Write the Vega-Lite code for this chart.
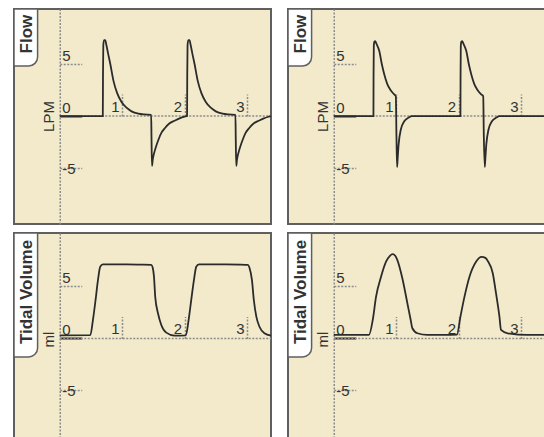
{
  "$schema": "https://vega.github.io/schema/vega-lite/v6.json",
  "background": "white",
  "padding": {"left": 12, "top": 7, "right": 0, "bottom": 0},
  "config": {
    "font": "Liberation Sans",
    "view": {"fill": "#f2eacb", "stroke": "#5f5f5f", "strokeWidth": 2},
    "axisX": {"domain": false, "grid": false, "tickSize": 22, "tickColor": "#8c8c8c", "tickWidth": 1.5, "tickDash": [2, 1.5], "labelPadding": -20, "labelAlign": "right", "labelBaseline": "bottom", "labelOffset": -3, "labelFontSize": 15, "labelColor": "#333333", "labelFont": "Liberation Sans", "labelFlush": false, "labelOverlap": false, "labelBound": false},
    "axisY": {"domain": true, "domainColor": "#8c8c8c", "domainWidth": 1.5, "domainDash": [2, 1.5], "grid": false, "tickSize": 22,
              "tickColor": {"condition": {"test": "datum.value === 0", "value": "#2b2b2b"}, "value": "#8c8c8c"},
              "tickWidth": {"condition": {"test": "datum.value === 0", "value": 2}, "value": 1.5},
              "tickDash": {"condition": {"test": "datum.value === 0", "value": []}, "value": [2, 1.5]},
              "labelPadding": -20, "labelAlign": "left",
              "labelBaseline": {"condition": {"test": "datum.value < 0", "value": "middle"}, "value": "bottom"},
              "labelOffset": {"condition": {"test": "datum.value < 0", "value": 0}, "value": -1},
              "labelExpr": "'' + datum.value",
              "labelFontSize": 15, "labelColor": "#333333", "labelFont": "Liberation Sans", "labelFlush": false, "labelOverlap": false, "labelBound": false, "titleAngle": 270, "titleAlign": "center", "titleBaseline": "middle", "titleFontSize": 15, "titleFontWeight": "normal", "titleColor": "#333333", "titleFont": "Liberation Sans", "titleX": -11.75}
  },
  "datasets": {
    "flowA": [
      {"t": 0, "v": 0}, {"t": 0.69, "v": 0}, {"t": 0.693, "v": 4.0}, {"t": 0.698, "v": 6.8}, {"t": 0.71, "v": 7.3}, {"t": 0.73, "v": 7.3}, {"t": 0.745, "v": 6.9}, {"t": 0.775, "v": 6.0}, {"t": 0.81, "v": 5.0}, {"t": 0.86, "v": 3.4}, {"t": 0.92, "v": 2.2}, {"t": 0.99, "v": 1.35}, {"t": 1.07, "v": 0.8}, {"t": 1.15, "v": 0.45}, {"t": 1.26, "v": 0.22}, {"t": 1.35, "v": 0.15}, {"t": 1.465, "v": 0.12},
      {"t": 1.47, "v": -2.0}, {"t": 1.478, "v": -4.8}, {"t": 1.49, "v": -4.2}, {"t": 1.52, "v": -3.4}, {"t": 1.55, "v": -2.8}, {"t": 1.58, "v": -2.3}, {"t": 1.63, "v": -1.6}, {"t": 1.68, "v": -1.2}, {"t": 1.76, "v": -0.7}, {"t": 1.84, "v": -0.45}, {"t": 1.92, "v": -0.22}, {"t": 2.0, "v": -0.06}, {"t": 2.04, "v": 0},
      {"t": 2.043, "v": 4.0}, {"t": 2.048, "v": 6.8}, {"t": 2.06, "v": 7.3}, {"t": 2.08, "v": 7.3}, {"t": 2.095, "v": 6.9}, {"t": 2.125, "v": 6.0}, {"t": 2.16, "v": 5.0}, {"t": 2.21, "v": 3.4}, {"t": 2.27, "v": 2.2}, {"t": 2.34, "v": 1.35}, {"t": 2.42, "v": 0.8}, {"t": 2.5, "v": 0.45}, {"t": 2.61, "v": 0.22}, {"t": 2.7, "v": 0.15}, {"t": 2.815, "v": 0.12},
      {"t": 2.82, "v": -2.0}, {"t": 2.828, "v": -4.8}, {"t": 2.84, "v": -4.2}, {"t": 2.87, "v": -3.4}, {"t": 2.9, "v": -2.8}, {"t": 2.93, "v": -2.3}, {"t": 2.98, "v": -1.6}, {"t": 3.03, "v": -1.2}, {"t": 3.11, "v": -0.7}, {"t": 3.19, "v": -0.45}, {"t": 3.27, "v": -0.22}, {"t": 3.35, "v": -0.06}, {"t": 3.385, "v": 0}
    ],
    "flowB": [
      {"t": 0, "v": 0}, {"t": 0.636, "v": 0}, {"t": 0.638, "v": 4.0}, {"t": 0.642, "v": 6.8}, {"t": 0.652, "v": 7.15}, {"t": 0.665, "v": 7.2}, {"t": 0.68, "v": 7.0}, {"t": 0.73, "v": 6.25}, {"t": 0.77, "v": 5.0}, {"t": 0.81, "v": 4.0}, {"t": 0.86, "v": 3.05}, {"t": 0.91, "v": 2.5}, {"t": 0.965, "v": 2.1}, {"t": 0.995, "v": 1.9},
      {"t": 1.005, "v": -2.0}, {"t": 1.015, "v": -4.9}, {"t": 1.025, "v": -4.0}, {"t": 1.04, "v": -2.7}, {"t": 1.075, "v": -1.3}, {"t": 1.13, "v": -0.5}, {"t": 1.2, "v": -0.15}, {"t": 1.25, "v": 0}, {"t": 2.03, "v": 0},
      {"t": 2.032, "v": 4.0}, {"t": 2.036, "v": 6.8}, {"t": 2.046, "v": 7.15}, {"t": 2.059, "v": 7.2}, {"t": 2.074, "v": 7.0}, {"t": 2.124, "v": 6.25}, {"t": 2.164, "v": 5.0}, {"t": 2.204, "v": 4.0}, {"t": 2.254, "v": 3.05}, {"t": 2.304, "v": 2.5}, {"t": 2.359, "v": 2.1}, {"t": 2.395, "v": 1.9},
      {"t": 2.405, "v": -2.0}, {"t": 2.42, "v": -4.9}, {"t": 2.43, "v": -4.0}, {"t": 2.445, "v": -2.7}, {"t": 2.48, "v": -1.3}, {"t": 2.535, "v": -0.5}, {"t": 2.605, "v": -0.15}, {"t": 2.655, "v": 0}, {"t": 3.385, "v": 0}
    ],
    "volA": [
      {"t": 0, "v": 0.3}, {"t": 0.49, "v": 0.32}, {"t": 0.532, "v": 1.78}, {"t": 0.574, "v": 3.7}, {"t": 0.612, "v": 5.6}, {"t": 0.649, "v": 6.9}, {"t": 0.69, "v": 7.13}, {"t": 1.0, "v": 7.12}, {"t": 1.3, "v": 7.1}, {"t": 1.466, "v": 7.07},
      {"t": 1.49, "v": 6.8}, {"t": 1.51, "v": 5.94}, {"t": 1.53, "v": 4.0}, {"t": 1.574, "v": 2.42}, {"t": 1.627, "v": 1.3}, {"t": 1.707, "v": 0.56}, {"t": 1.84, "v": 0.27}, {"t": 2.02, "v": 0.3},
      {"t": 2.065, "v": 1.78}, {"t": 2.107, "v": 3.7}, {"t": 2.15, "v": 5.6}, {"t": 2.187, "v": 6.9}, {"t": 2.23, "v": 7.13}, {"t": 2.6, "v": 7.12}, {"t": 2.9, "v": 7.1}, {"t": 3.016, "v": 7.07},
      {"t": 3.04, "v": 6.8}, {"t": 3.08, "v": 5.6}, {"t": 3.11, "v": 3.7}, {"t": 3.15, "v": 2.1}, {"t": 3.2, "v": 1.13}, {"t": 3.28, "v": 0.5}, {"t": 3.385, "v": 0.27}
    ],
    "volB": [
      {"t": 0, "v": 0.34}, {"t": 0.564, "v": 0.34}, {"t": 0.625, "v": 1.78}, {"t": 0.678, "v": 4.02}, {"t": 0.758, "v": 5.94}, {"t": 0.838, "v": 7.38}, {"t": 0.9, "v": 7.95}, {"t": 0.944, "v": 8.1}, {"t": 0.985, "v": 7.95}, {"t": 1.018, "v": 7.55}, {"t": 1.099, "v": 5.79}, {"t": 1.18, "v": 3.38}, {"t": 1.233, "v": 1.78}, {"t": 1.26, "v": 0.98}, {"t": 1.34, "v": 0.5}, {"t": 1.5, "v": 0.34}, {"t": 1.77, "v": 0.34}, {"t": 1.973, "v": 0.36},
      {"t": 2.03, "v": 2.1}, {"t": 2.095, "v": 4.02}, {"t": 2.175, "v": 5.94}, {"t": 2.28, "v": 7.38}, {"t": 2.37, "v": 7.85}, {"t": 2.43, "v": 7.75}, {"t": 2.468, "v": 7.45}, {"t": 2.548, "v": 6.27}, {"t": 2.6, "v": 4.35}, {"t": 2.655, "v": 2.1}, {"t": 2.68, "v": 0.82}, {"t": 2.788, "v": 0.5}, {"t": 3.1, "v": 0.34}, {"t": 3.385, "v": 0.34}
    ]
  },
  "vconcat": [
    {
      "spacing": 10,
      "hconcat": [
        {
          "width": 257, "height": 215,
          "layer": [
            {"data": {"values": [{"label": "Flow"}]}, "mark": {"type": "rule", "stroke": "#8c8c8c", "strokeWidth": 1.5, "strokeDash": [2, 1.5]},
             "encoding": {"x": {"datum": 0, "type": "quantitative", "scale": {"domain": [-0.733, 3.385], "nice": false}, "axis": {"orient": "top", "offset": -107, "values": [1, 2, 3], "title": null}}, "x2": {"datum": 3.385},
                          "y": {"datum": 0, "type": "quantitative", "scale": {"domain": [-10.38, 10.29], "nice": false}, "axis": {"orient": "right", "offset": -211.25, "values": [-5, 0, 5], "title": "LPM", "titleY": 107}}}},
            {"data": {"name": "flowA"}, "mark": {"type": "line", "stroke": "#2b2b2b", "strokeWidth": 1.8, "interpolate": "monotone"},
             "encoding": {"x": {"field": "t", "type": "quantitative", "scale": {"domain": [-0.733, 3.385], "nice": false}, "axis": {"orient": "top", "offset": -107, "values": [1, 2, 3], "title": null}},
                          "y": {"field": "v", "type": "quantitative", "scale": {"domain": [-10.38, 10.29], "nice": false}, "axis": {"orient": "right", "offset": -211.25, "values": [-5, 0, 5], "title": "LPM", "titleY": 107}}}},
            {"data": {"values": [{"label": "Flow"}]}, "mark": {"type": "rect", "fill": "white", "stroke": "#5f5f5f", "strokeWidth": 1.5, "cornerRadiusBottomRight": 9},
             "encoding": {"x": {"datum": -0.733, "type": "quantitative", "scale": {"domain": [-0.733, 3.385], "nice": false}, "axis": {"orient": "top", "offset": -107, "values": [1, 2, 3], "title": null}}, "x2": {"datum": -0.355},
                          "y": {"datum": 10.29, "type": "quantitative", "scale": {"domain": [-10.38, 10.29], "nice": false}, "axis": {"orient": "right", "offset": -211.25, "values": [-5, 0, 5], "title": "LPM", "titleY": 107}}, "y2": {"datum": 4.81}}},
            {"data": {"values": [{"label": "Flow"}]}, "mark": {"type": "text", "angle": 270, "align": "center", "baseline": "middle", "font": "Liberation Sans", "fontSize": 17, "fontWeight": "bold", "color": "#333333"},
             "encoding": {"x": {"datum": -0.52, "type": "quantitative", "scale": {"domain": [-0.733, 3.385], "nice": false}, "axis": {"orient": "top", "offset": -107, "values": [1, 2, 3], "title": null}},
                          "y": {"datum": 7.88, "type": "quantitative", "scale": {"domain": [-10.38, 10.29], "nice": false}, "axis": {"orient": "right", "offset": -211.25, "values": [-5, 0, 5], "title": "LPM", "titleY": 107}}, "text": {"field": "label"}}}
          ]
        },
        {
          "width": 257, "height": 215,
          "layer": [
            {"data": {"values": [{"label": "Flow"}]}, "mark": {"type": "rule", "stroke": "#8c8c8c", "strokeWidth": 1.5, "strokeDash": [2, 1.5]},
             "encoding": {"x": {"datum": 0, "type": "quantitative", "scale": {"domain": [-0.733, 3.385], "nice": false}, "axis": {"orient": "top", "offset": -107, "values": [1, 2, 3], "title": null}}, "x2": {"datum": 3.385},
                          "y": {"datum": 0, "type": "quantitative", "scale": {"domain": [-10.38, 10.29], "nice": false}, "axis": {"orient": "right", "offset": -211.25, "values": [-5, 0, 5], "title": "LPM", "titleY": 107}}}},
            {"data": {"name": "flowB"}, "mark": {"type": "line", "stroke": "#2b2b2b", "strokeWidth": 1.8, "interpolate": "monotone"},
             "encoding": {"x": {"field": "t", "type": "quantitative", "scale": {"domain": [-0.733, 3.385], "nice": false}, "axis": {"orient": "top", "offset": -107, "values": [1, 2, 3], "title": null}},
                          "y": {"field": "v", "type": "quantitative", "scale": {"domain": [-10.38, 10.29], "nice": false}, "axis": {"orient": "right", "offset": -211.25, "values": [-5, 0, 5], "title": "LPM", "titleY": 107}}}},
            {"data": {"values": [{"label": "Flow"}]}, "mark": {"type": "rect", "fill": "white", "stroke": "#5f5f5f", "strokeWidth": 1.5, "cornerRadiusBottomRight": 9},
             "encoding": {"x": {"datum": -0.733, "type": "quantitative", "scale": {"domain": [-0.733, 3.385], "nice": false}, "axis": {"orient": "top", "offset": -107, "values": [1, 2, 3], "title": null}}, "x2": {"datum": -0.355},
                          "y": {"datum": 10.29, "type": "quantitative", "scale": {"domain": [-10.38, 10.29], "nice": false}, "axis": {"orient": "right", "offset": -211.25, "values": [-5, 0, 5], "title": "LPM", "titleY": 107}}, "y2": {"datum": 4.81}}},
            {"data": {"values": [{"label": "Flow"}]}, "mark": {"type": "text", "angle": 270, "align": "center", "baseline": "middle", "font": "Liberation Sans", "fontSize": 17, "fontWeight": "bold", "color": "#333333"},
             "encoding": {"x": {"datum": -0.52, "type": "quantitative", "scale": {"domain": [-0.733, 3.385], "nice": false}, "axis": {"orient": "top", "offset": -107, "values": [1, 2, 3], "title": null}},
                          "y": {"datum": 7.88, "type": "quantitative", "scale": {"domain": [-10.38, 10.29], "nice": false}, "axis": {"orient": "right", "offset": -211.25, "values": [-5, 0, 5], "title": "LPM", "titleY": 107}}, "text": {"field": "label"}}}
          ]
        }
      ]
    },
    {
      "spacing": 10,
      "hconcat": [
        {
          "width": 257, "height": 205,
          "layer": [
            {"data": {"values": [{"label": "Tidal Volume"}]}, "mark": {"type": "rule", "stroke": "#8c8c8c", "strokeWidth": 1.5, "strokeDash": [2, 1.5]},
             "encoding": {"x": {"datum": 0, "type": "quantitative", "scale": {"domain": [-0.733, 3.385], "nice": false}, "axis": {"orient": "top", "offset": -105.5, "values": [1, 2, 3], "title": null}}, "x2": {"datum": 3.385},
                          "y": {"datum": 0, "type": "quantitative", "scale": {"domain": [-9.57, 10.14], "nice": false}, "axis": {"orient": "right", "offset": -211.25, "values": [-5, 0, 5], "title": "ml", "titleY": 106}}}},
            {"data": {"name": "volA"}, "mark": {"type": "line", "stroke": "#2b2b2b", "strokeWidth": 1.8, "interpolate": "monotone"},
             "encoding": {"x": {"field": "t", "type": "quantitative", "scale": {"domain": [-0.733, 3.385], "nice": false}, "axis": {"orient": "top", "offset": -105.5, "values": [1, 2, 3], "title": null}},
                          "y": {"field": "v", "type": "quantitative", "scale": {"domain": [-9.57, 10.14], "nice": false}, "axis": {"orient": "right", "offset": -211.25, "values": [-5, 0, 5], "title": "ml", "titleY": 106}}}},
            {"data": {"values": [{"label": "Tidal Volume"}]}, "mark": {"type": "rect", "fill": "white", "stroke": "#5f5f5f", "strokeWidth": 1.5, "cornerRadiusBottomRight": 9},
             "encoding": {"x": {"datum": -0.733, "type": "quantitative", "scale": {"domain": [-0.733, 3.385], "nice": false}, "axis": {"orient": "top", "offset": -105.5, "values": [1, 2, 3], "title": null}}, "x2": {"datum": -0.355},
                          "y": {"datum": 10.14, "type": "quantitative", "scale": {"domain": [-9.57, 10.14], "nice": false}, "axis": {"orient": "right", "offset": -211.25, "values": [-5, 0, 5], "title": "ml", "titleY": 106}}, "y2": {"datum": -1.78}}},
            {"data": {"values": [{"label": "Tidal Volume"}]}, "mark": {"type": "text", "angle": 270, "align": "center", "baseline": "middle", "font": "Liberation Sans", "fontSize": 17, "fontWeight": "bold", "color": "#333333"},
             "encoding": {"x": {"datum": -0.52, "type": "quantitative", "scale": {"domain": [-0.733, 3.385], "nice": false}, "axis": {"orient": "top", "offset": -105.5, "values": [1, 2, 3], "title": null}},
                          "y": {"datum": 4.47, "type": "quantitative", "scale": {"domain": [-9.57, 10.14], "nice": false}, "axis": {"orient": "right", "offset": -211.25, "values": [-5, 0, 5], "title": "ml", "titleY": 106}}, "text": {"field": "label"}}}
          ]
        },
        {
          "width": 257, "height": 205,
          "layer": [
            {"data": {"values": [{"label": "Tidal Volume"}]}, "mark": {"type": "rule", "stroke": "#8c8c8c", "strokeWidth": 1.5, "strokeDash": [2, 1.5]},
             "encoding": {"x": {"datum": 0, "type": "quantitative", "scale": {"domain": [-0.733, 3.385], "nice": false}, "axis": {"orient": "top", "offset": -105.5, "values": [1, 2, 3], "title": null}}, "x2": {"datum": 3.385},
                          "y": {"datum": 0, "type": "quantitative", "scale": {"domain": [-9.57, 10.14], "nice": false}, "axis": {"orient": "right", "offset": -211.25, "values": [-5, 0, 5], "title": "ml", "titleY": 106}}}},
            {"data": {"name": "volB"}, "mark": {"type": "line", "stroke": "#2b2b2b", "strokeWidth": 1.8, "interpolate": "monotone"},
             "encoding": {"x": {"field": "t", "type": "quantitative", "scale": {"domain": [-0.733, 3.385], "nice": false}, "axis": {"orient": "top", "offset": -105.5, "values": [1, 2, 3], "title": null}},
                          "y": {"field": "v", "type": "quantitative", "scale": {"domain": [-9.57, 10.14], "nice": false}, "axis": {"orient": "right", "offset": -211.25, "values": [-5, 0, 5], "title": "ml", "titleY": 106}}}},
            {"data": {"values": [{"label": "Tidal Volume"}]}, "mark": {"type": "rect", "fill": "white", "stroke": "#5f5f5f", "strokeWidth": 1.5, "cornerRadiusBottomRight": 9},
             "encoding": {"x": {"datum": -0.733, "type": "quantitative", "scale": {"domain": [-0.733, 3.385], "nice": false}, "axis": {"orient": "top", "offset": -105.5, "values": [1, 2, 3], "title": null}}, "x2": {"datum": -0.355},
                          "y": {"datum": 10.14, "type": "quantitative", "scale": {"domain": [-9.57, 10.14], "nice": false}, "axis": {"orient": "right", "offset": -211.25, "values": [-5, 0, 5], "title": "ml", "titleY": 106}}, "y2": {"datum": -1.78}}},
            {"data": {"values": [{"label": "Tidal Volume"}]}, "mark": {"type": "text", "angle": 270, "align": "center", "baseline": "middle", "font": "Liberation Sans", "fontSize": 17, "fontWeight": "bold", "color": "#333333"},
             "encoding": {"x": {"datum": -0.52, "type": "quantitative", "scale": {"domain": [-0.733, 3.385], "nice": false}, "axis": {"orient": "top", "offset": -105.5, "values": [1, 2, 3], "title": null}},
                          "y": {"datum": 4.47, "type": "quantitative", "scale": {"domain": [-9.57, 10.14], "nice": false}, "axis": {"orient": "right", "offset": -211.25, "values": [-5, 0, 5], "title": "ml", "titleY": 106}}, "text": {"field": "label"}}}
          ]
        }
      ]
    }
  ],
  "spacing": 6
}
